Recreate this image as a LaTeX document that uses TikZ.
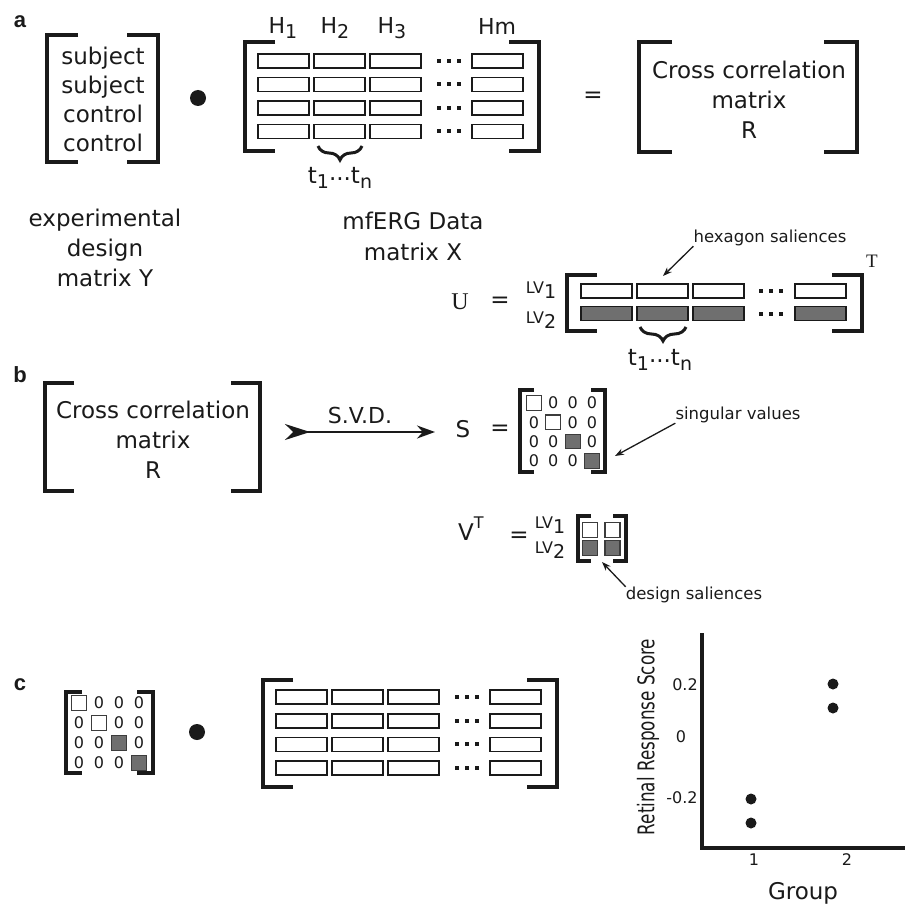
\documentclass[tikz,border=0pt]{standalone}
\usepackage{fontspec}
\setmainfont{DejaVu Sans}
\newfontfamily\serifcap{Liberation Serif}
\newfontfamily\panelfont{Liberation Sans}
\usepackage{graphicx}
\usetikzlibrary{arrows.meta, decorations.pathreplacing, calc}
\definecolor{inkcol}{HTML}{1A1A1A}
\definecolor{cellgrey}{HTML}{6F6F6F}
\tikzset{
  % thick square bracket of a matrix
  brak/.style={draw=inkcol, line width=4pt, line cap=butt, line join=miter},
  % one box (one hexagon, t_1 ... t_n) of a data row
  hexbox/.style={draw=inkcol, line width=1.6pt, fill=white},
  hexgrey/.style={hexbox, fill=cellgrey},
  % diagonal entries of S and V
  svbox/.style={draw=inkcol!85, line width=1.2pt, fill=white,
                minimum width=15pt, minimum height=14.5pt, inner sep=0pt},
  svgrey/.style={svbox, fill=cellgrey},
  bigtxt/.style={font=\fontsize{23}{30}\selectfont, text=inkcol, inner sep=0pt},
  smalltxt/.style={font=\fontsize{16.5}{20}\selectfont, text=inkcol, inner sep=0pt},
  lvtxt/.style={font=\fontsize{16}{16}\selectfont, text=inkcol, inner sep=0pt},
  zero/.style={font=\fontsize{16}{16}\selectfont, text=inkcol, inner sep=0pt},
  panel/.style={font=\panelfont\fontsize{22}{22}\selectfont\bfseries, text=inkcol, inner sep=0pt},
  prodot/.style={circle, fill=inkcol, inner sep=0pt, minimum size=16pt},
  score/.style={circle, fill=inkcol, inner sep=0pt, minimum size=11pt},
  note/.style={draw=inkcol, line width=1.3pt, arrows={-Stealth[length=9pt,width=6.5pt]}},
  svd/.style={draw=inkcol, line width=2pt,
              arrows={Stealth[length=25pt,width=16pt,reversed]-Stealth[length=18pt,width=13pt]}},
  timebrace/.style={draw=inkcol, line width=3pt, decorate,
                    decoration={brace, mirror, amplitude=14pt}},
  axisline/.style={draw=inkcol, line width=4pt, line join=miter},
}
% lowered index with nearly full size digits
\newcommand{\lowidx}[2][0.2em]{\raisebox{-#1}{\fontsize{19}{19}\selectfont #2}}
% pair of square brackets: left x, right x, top y, bottom y, serif
\newcommand{\brackets}[6][]{%
  \draw[brak,#1] ({#2+#6},#4) -- (#2,#4) -- (#2,#5) -- ({#2+#6},#5);
  \draw[brak,#1] ({#3-#6},#4) -- (#3,#4) -- (#3,#5) -- ({#3-#6},#5);
}
% one data row: column lefts, top y, box style, first dot x
\newcommand{\hexrow}[4]{%
  \foreach \cx in {#1}
    \draw[#3] (\cx,#2) rectangle ++(51,14);
  \foreach \dx in {0,10,20}
    \fill[inkcol] ({#4+\dx},{#2+5}) rectangle ++(4,4);
}
% 4x4 diagonal matrix: name, first column x, first row y, step
\newcommand{\smatrix}[4]{%
  \foreach \i in {0,...,3}
    \foreach \j in {0,...,3} {
      \ifnum\i=\j\relax\else
        \node[zero] (#1z\i\j) at ({#2+#4*\j},{#3+#4*\i}) {0};
      \fi
    }
  \foreach \k/\st in {0/svbox,1/svbox,2/svgrey,3/svgrey}
    \node[\st] (#1d\k) at ({#2+#4*\k},{#3+#4*\k}) {};
}

\begin{document}
\begin{tikzpicture}[x=1pt, y=-1pt]
  \useasboundingbox (0,0) rectangle (907,904);

  % ---- a: Y . X = R
  \node[panel] (pa) at (20,22) {a};
  \brackets{47}{158}{35}{162}{31}
  \node[bigtxt, align=center, font=\fontsize{23}{29}\selectfont] (Ytxt) at (103,99)
    {subject\\subject\\control\\control};
  \node[prodot] (dotA) at (198,98) {};

  \brackets{245}{539}{42}{151}{30}
  \foreach \r in {0,...,3} {\hexrow{258,314,370,472}{54+23.5*\r}{hexbox}{437}}
  \node[bigtxt, font=\fontsize{22}{22}\selectfont] (H1) at (283,28) {H\lowidx{1}};
  \node[bigtxt, font=\fontsize{22}{22}\selectfont] (H2) at (335,28) {H\lowidx{2}};
  \node[bigtxt, font=\fontsize{22}{22}\selectfont] (H3) at (392,28) {H\lowidx{3}};
  \node[bigtxt, font=\fontsize{22}{22}\selectfont] (Hm) at (497,26) {Hm};
  \draw[timebrace] (318,146) -- (362,146);
  \node[bigtxt] (tA) at (340,178) {t\lowidx{1}\raisebox{.15em}{...}t\lowidx{n}};

  \node[bigtxt, align=center] (Ylab) at (105,248) {experimental\\design\\matrix Y};
  \node[bigtxt, align=center, font=\fontsize{23}{31}\selectfont] (Xlab) at (413,236) {mfERG Data\\matrix X};

  \node[bigtxt] (eqA) at (593,97) {=};
  \brackets{639}{857}{42}{152}{33}
  \node[bigtxt, align=center] (Rtxt) at (749,100) {Cross correlation\\matrix\\R};

  % U with hexagon saliences
  \node[bigtxt, font=\serifcap\fontsize{24}{24}\selectfont] (Ulab) at (460,302) {U};
  \node[bigtxt] (eqU) at (500,302) {=};
  \node[lvtxt] (lvU1) at (541,290) {LV\lowidx[0.35em]{1}};
  \node[lvtxt] (lvU2) at (541,320) {LV\lowidx[0.35em]{2}};
  \brackets{567}{862}{275}{331}{30}
  \hexrow{581,637,693,795}{284}{hexbox}{759}
  \hexrow{581,637,693,795}{306.5}{hexgrey}{759}
  \node[bigtxt, font=\serifcap\fontsize{19}{19}\selectfont] (Tsup) at (872,261) {T};
  \draw[timebrace] (640,327) -- (686,327);
  \node[bigtxt] (tU) at (660,360) {t\lowidx{1}\raisebox{.15em}{...}t\lowidx{n}};
  \node[smalltxt] (hexnote) at (770,238) {hexagon saliences};
  \coordinate (hextip) at (663,276);
  \draw[note] (hexnote.south west) -- (hextip);

  % ---- b: SVD of R
  \node[panel] (pb) at (20,375) {b};
  \brackets{45}{260}{383}{491}{29}
  \node[bigtxt, align=center] (Rb) at (153,440) {Cross correlation\\matrix\\R};
  \coordinate (svdfrom) at (285,432);
  \coordinate (svdto) at (435,432);
  \draw[svd] (svdfrom) -- node[bigtxt, font=\fontsize{22}{22}\selectfont, above=7pt] (svdlab) {S.V.D.} (svdto);

  \node[bigtxt] (Slab) at (463,429) {S};
  \node[bigtxt] (eqS) at (500,430) {=};
  \brackets[line width=3.5pt]{520}{605}{390}{472}{14}
  \smatrix{Sb}{534}{403}{19.3}
  \node[smalltxt] (svnote) at (738,415) {singular values};
  \coordinate (svtip) at (615,456);
  \draw[note] (svnote.south west) -- (svtip);

  \node[bigtxt, anchor=base west] (Vlab) at (458,540)
    {V\raisebox{.5em}{\fontsize{16}{16}\selectfont T}};
  \node[bigtxt] (eqV) at (519,537) {=};
  \node[lvtxt] (lvV1) at (550,525) {LV\lowidx[0.35em]{1}};
  \node[lvtxt] (lvV2) at (550,550) {LV\lowidx[0.35em]{2}};
  \brackets[line width=3.5pt]{578}{626}{516}{561}{13}
  \node[svbox]  (V11) at (590,530) {};
  \node[svbox]  (V12) at (612.5,530) {};
  \node[svgrey] (V21) at (590,548) {};
  \node[svgrey] (V22) at (612.5,548) {};
  \node[smalltxt] (dsnote) at (694,595) {design saliences};
  \coordinate (dstip) at (602,562);
  \draw[note] (dsnote.north west) -- (dstip);

  % ---- c: S . X and the scores
  \node[panel] (pc) at (20,685) {c};
  \brackets[line width=3.5pt]{66}{153}{692}{773}{16}
  \smatrix{Sc}{79}{703}{20}
  \node[prodot] (dotC) at (197,732) {};
  \brackets{263}{557}{680}{787}{30}
  \foreach \r in {0,...,3} {\hexrow{276,332,388,490}{690+23.7*\r}{hexbox}{455}}

  \draw[axisline] (702,633) -- (702,848) -- (905,848);
  \node[score] (g1a) at (751,799) {};
  \node[score] (g1b) at (751,823) {};
  \node[score] (g2a) at (833,684) {};
  \node[score] (g2b) at (833,708) {};
  \node[smalltxt, font=\fontsize{16}{16}\selectfont] (tk1) at (685,685) {0.2};
  \node[smalltxt, font=\fontsize{16}{16}\selectfont] (tk2) at (681,737) {0};
  \node[smalltxt, font=\fontsize{16}{16}\selectfont] (tk3) at (682,798) {-0.2};
  \node[smalltxt, font=\fontsize{16}{16}\selectfont] (gx1) at (754,860) {1};
  \node[smalltxt, font=\fontsize{16}{16}\selectfont] (gx2) at (847,860) {2};
  \node[bigtxt] (grp) at (803,893) {Group};
  \node[bigtxt] (ylab) at (648,737)
    {\rotatebox{90}{\scalebox{0.73}[1]{Retinal Response Score}}};
\end{tikzpicture}
\end{document}
